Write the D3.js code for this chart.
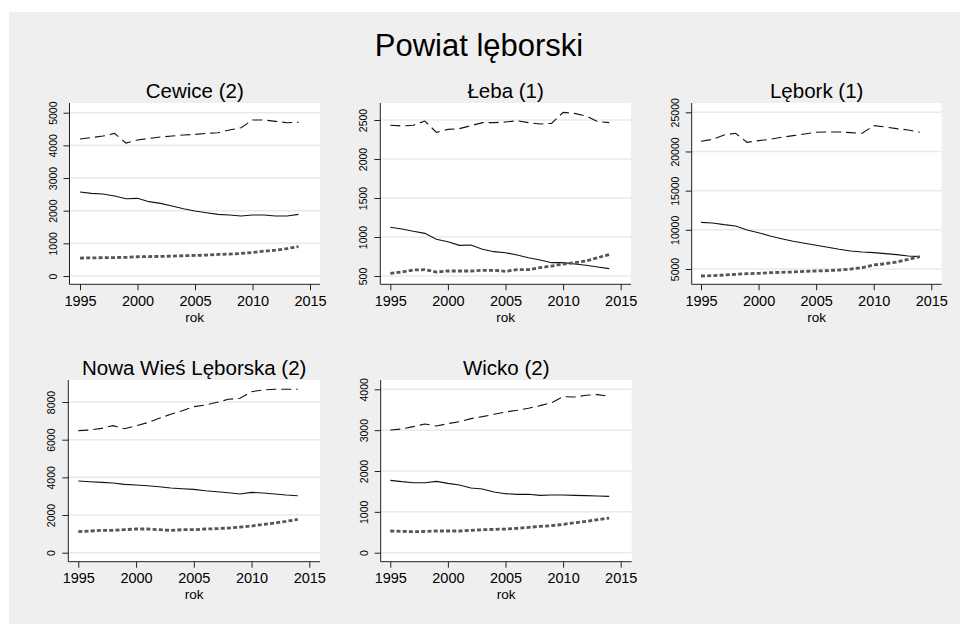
<!DOCTYPE html>
<html>
<head>
<meta charset="utf-8">
<script src="https://cdn.jsdelivr.net/npm/d3@7"></script>
<style>
  html, body { margin: 0; padding: 0; background: #ffffff; }
  svg { display: block; }
  text { font-family: "Liberation Sans", Arial, sans-serif; fill: #000; }
</style>
</head>
<body>
<svg id="chart" width="960" height="624"></svg>
<script>
// ---------------- DATA ----------------
const mainTitle = "Powiat lęborski";
const xAxisLabel = "rok";
const years = [1995,1996,1997,1998,1999,2000,2001,2002,2003,2004,2005,2006,2007,2008,2009,2010,2011,2012,2013,2014];
const xTicks = [1995, 2000, 2005, 2010, 2015];

const panelNames = ["Cewice (2)", "Łeba (1)", "Lębork (1)", "Nowa Wieś Lęborska (2)", "Wicko (2)"];

// dashed series
const cewiceDashed = [4194,4240,4286,4367,4071,4163,4214,4255,4286,4316,4337,4367,4388,4469,4541,4776,4776,4735,4694,4704];
const lebaDashed   = [2432,2423,2432,2487,2342,2380,2389,2427,2466,2466,2474,2491,2466,2449,2457,2598,2585,2551,2479,2466];
const leborkDashed = [21298,21553,22106,22319,21170,21383,21553,21809,22021,22234,22447,22489,22489,22404,22319,23298,23128,22915,22745,22447];
const nowaDashed   = [6478,6513,6602,6743,6584,6743,6903,7133,7345,7540,7752,7841,7982,8142,8195,8549,8637,8673,8673,8673];
const wickoDashed  = [3004,3029,3086,3151,3102,3159,3208,3282,3331,3388,3445,3486,3535,3600,3673,3820,3812,3853,3869,3829];

// solid series
const cewiceSolid = [2571,2531,2510,2449,2367,2378,2276,2224,2143,2061,1990,1939,1888,1867,1837,1867,1867,1837,1837,1888];
const lebaSolid   = [1124,1103,1073,1047,970,940,893,897,842,812,799,769,735,705,671,671,654,637,615,594];
const leborkSolid = [10957,10872,10660,10489,9979,9638,9213,8872,8532,8277,8021,7766,7511,7298,7170,7085,6957,6830,6660,6574];
const nowaSolid   = [3805,3770,3735,3699,3628,3593,3558,3504,3434,3398,3363,3292,3239,3186,3115,3204,3168,3115,3062,3027];
const wickoSolid  = [1771,1739,1714,1714,1747,1698,1657,1584,1559,1486,1445,1429,1429,1404,1412,1412,1404,1396,1388,1380];

// thick dotted series
const cewiceDotted = [550,555,560,565,570,590,595,600,610,620,630,640,660,670,690,720,760,790,840,900];
const lebaDotted   = [534,551,577,581,551,564,564,564,573,573,560,581,581,607,628,654,671,692,735,774];
const leborkDotted = [4106,4149,4234,4319,4404,4447,4532,4574,4617,4702,4745,4787,4872,5000,5170,5511,5681,5894,6234,6574];
const nowaDotted   = [1115,1150,1186,1186,1221,1257,1257,1221,1186,1221,1221,1257,1274,1310,1363,1416,1504,1575,1664,1770];
const wickoDotted  = [531,522,514,522,531,531,531,547,563,571,580,596,620,645,661,694,735,767,808,849];

// y tick labels per panel
const cewiceYTicks = [0,1000,2000,3000,4000,5000];
const lebaYTicks   = [500,1000,1500,2000,2500];
const leborkYTicks = [5000,10000,15000,20000,25000];
const nowaYTicks   = [0,2000,4000,6000,8000];
const wickoYTicks  = [0,1000,2000,3000,4000];

// ---------------- LAYOUT ----------------
const layout = [
  {left:69.5, right:320, top:103, bottom:284.3, x0:80,    x1:310,   yPx0:276,   yPx1:112.7},
  {left:380.3,right:631, top:103, bottom:284.3, x0:390.3, x1:620.7, yPx0:276,   yPx1:120},
  {left:691.7,right:941.7,top:103,bottom:284.3, x0:701,   x1:931.3, yPx0:269,   yPx1:112.3},
  {left:68.3, right:320, top:380, bottom:561.7, x0:78.3,  x1:309.3, yPx0:552.7, yPx1:402},
  {left:380.7,right:631.7,top:380,bottom:561.7, x0:390.3, x1:620.7, yPx0:552.7, yPx1:389.3}
];

const panels = [
  {name: panelNames[0], ticks: cewiceYTicks, dashed: cewiceDashed, solid: cewiceSolid, dotted: cewiceDotted},
  {name: panelNames[1], ticks: lebaYTicks,   dashed: lebaDashed,   solid: lebaSolid,   dotted: lebaDotted},
  {name: panelNames[2], ticks: leborkYTicks, dashed: leborkDashed, solid: leborkSolid, dotted: leborkDotted},
  {name: panelNames[3], ticks: nowaYTicks,   dashed: nowaDashed,   solid: nowaSolid,   dotted: nowaDotted},
  {name: panelNames[4], ticks: wickoYTicks,  dashed: wickoDashed,  solid: wickoSolid,  dotted: wickoDotted}
];

const svg = d3.select("#chart");

// outer grey background
svg.append("rect").attr("x", 9).attr("y", 12).attr("width", 951).attr("height", 612).attr("fill", "#efefef");

svg.append("text")
  .attr("x", 479).attr("y", 56)
  .attr("text-anchor", "middle")
  .style("font-size", "31px")
  .text(mainTitle);

panels.forEach((p, i) => {
  const L = layout[i];
  const g = svg.append("g");
  const x = d3.scaleLinear().domain([xTicks[0], xTicks[xTicks.length-1]]).range([L.x0, L.x1]);
  const y = d3.scaleLinear().domain([p.ticks[0], p.ticks[p.ticks.length-1]]).range([L.yPx0, L.yPx1]);

  // plot region
  g.append("rect").attr("x", L.left).attr("y", L.top)
    .attr("width", L.right - L.left).attr("height", L.bottom - L.top).attr("fill", "#ffffff");

  // gridlines
  g.selectAll(".grid").data(p.ticks).enter().append("line")
    .attr("x1", L.left).attr("x2", L.right)
    .attr("y1", d => y(d)).attr("y2", d => y(d))
    .attr("stroke", "#eaeaea").attr("stroke-width", 1.5);

  // y axis
  const yAxis = d3.axisLeft(y).tickValues(p.ticks).tickSize(6).tickPadding(7).tickFormat(d3.format("d"));
  const ya = g.append("g").attr("transform", `translate(${L.left},0)`).call(yAxis);
  ya.select(".domain").attr("d", `M0,${L.top}V${L.bottom}`).attr("stroke", "#222");
  ya.selectAll(".tick line").attr("stroke", "#222");
  ya.selectAll(".tick text")
    .attr("x", null).attr("dy", null)
    .attr("transform", "translate(-13,0) rotate(-90)")
    .attr("text-anchor", "middle")
    .style("font-size", "10.5px");

  // x axis
  const xAxis = d3.axisBottom(x).tickValues(xTicks).tickSize(6).tickPadding(4).tickFormat(d3.format("d"));
  const xa = g.append("g").attr("transform", `translate(0,${L.bottom})`).call(xAxis);
  xa.select(".domain").attr("d", `M${L.left},0H${L.right}`).attr("stroke", "#222");
  xa.selectAll(".tick line").attr("stroke", "#222");
  xa.selectAll(".tick text").attr("dy", null).attr("y", 21.5).style("font-size", "14.5px");

  svg.selectAll("g.tick text").attr("fill", "#000");

  // axis title
  g.append("text")
    .attr("x", (L.left + L.right) / 2).attr("y", L.bottom + 37.5)
    .attr("text-anchor", "middle").style("font-size", "13.5px")
    .text(xAxisLabel);

  // panel title
  g.append("text")
    .attr("x", (L.left + L.right) / 2).attr("y", L.top - 5)
    .attr("text-anchor", "middle").style("font-size", "20.5px")
    .text(p.name);

  const line = d3.line().x((d, k) => x(years[k])).y(d => y(d));

  g.append("path").datum(p.solid).attr("d", line)
    .attr("fill", "none").attr("stroke", "#111").attr("stroke-width", 1.1);
  g.append("path").datum(p.dashed).attr("d", line)
    .attr("fill", "none").attr("stroke", "#111").attr("stroke-width", 1.1)
    .attr("stroke-dasharray", "10,5");
  g.append("path").datum(p.dotted).attr("d", line)
    .attr("fill", "none").attr("stroke", "#555").attr("stroke-width", 2.8)
    .attr("stroke-dasharray", "4,2.2");
});
</script>
</body>
</html>
